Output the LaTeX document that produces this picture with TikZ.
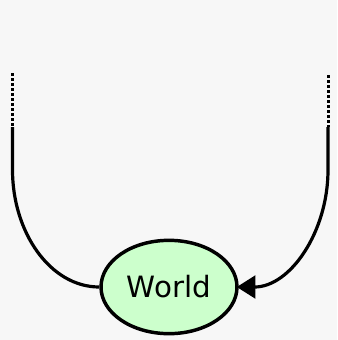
\documentclass[tikz,border=0pt]{standalone}
\usepackage{fontspec}
\setsansfont{DejaVu Sans}
\usetikzlibrary{shapes.geometric, arrows.meta, positioning}
\definecolor{paper}{RGB}{247,247,247}

\begin{document}
\begin{tikzpicture}[
    x=0.75pt, y=-0.75pt,
    world/.style={ellipse, draw, line width=2.6pt, fill=green!20, inner sep=0pt, minimum width=102pt, minimum height=70pt, font=\sffamily\fontsize{22}{26}\selectfont},
    link/.style={line width=2.4pt},
    arrow/.style={link, -{Triangle[length=14pt, width=17pt]}, shorten >=-1.5pt},
    fade/.style={line width=2.25pt, dash pattern=on 2.25pt off 1.5pt}
]
    \fill[paper] (0,0) rectangle (337,340);
    \useasboundingbox (0,0) rectangle (337,340);

    \node[world] (world) at (169,287) {World};

    % left branch
    \coordinate (ltop) at (12.5,73);
    \coordinate (lmid) at (12.5,127);
    \coordinate (lbend) at (12.5,170);
    \draw[fade] (ltop) -- (lmid);
    \draw[link] (lmid) -- (lbend) .. controls (12.5,232) and (50,287) .. (world.west);

    % right branch
    \coordinate (rtop) at (328,75);
    \coordinate (rmid) at (328,127);
    \coordinate (rbend) at (328,170);
    \draw[fade] (rtop) -- (rmid);
    \draw[arrow] (rmid) -- (rbend) .. controls (328,232) and (290,287) .. (world.east);
\end{tikzpicture}
\end{document}
